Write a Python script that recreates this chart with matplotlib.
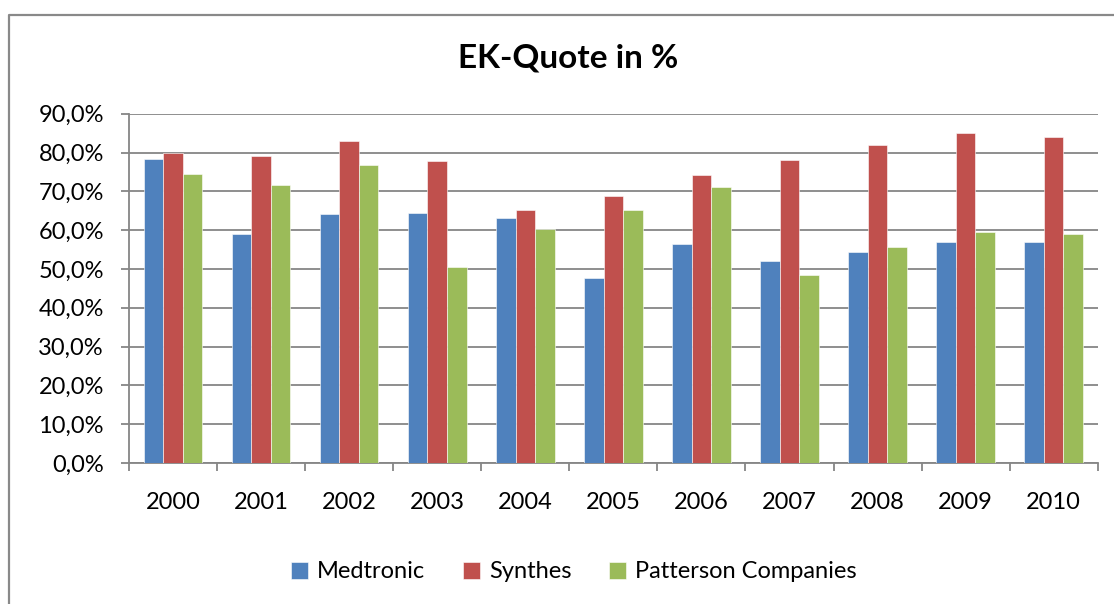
import matplotlib
matplotlib.use('Agg')
import numpy as np
import matplotlib.pyplot as plt
from matplotlib.lines import Line2D
from matplotlib.ticker import FuncFormatter

years = ['2000', '2001', '2002', '2003', '2004', '2005', '2006', '2007', '2008', '2009', '2010']
medtronic = [78.3, 59.1, 64.2, 64.4, 63.0, 47.6, 56.3, 52.0, 54.3, 57.0, 57.0]
synthes = [80.0, 79.0, 82.9, 77.9, 65.1, 68.9, 74.1, 78.0, 81.9, 85.1, 84.0]
patterson = [74.4, 71.6, 76.8, 50.5, 60.2, 65.1, 71.1, 48.5, 55.7, 59.4, 59.0]

series = [('Medtronic', medtronic, '#4F81BD'),
          ('Synthes', synthes, '#C0504D'),
          ('Patterson Companies', patterson, '#9BBB59')]

plt.rcParams['font.family'] = ['Lato', 'DejaVu Sans']
W, H = 1114, 604
fig = plt.figure(figsize=(W / 100, H / 100), dpi=100)
ax = fig.add_axes([129 / W, 1 - 463 / H, (1097.7 - 129) / W, (463 - 113.7) / H])

x = np.arange(len(years))
bw = 0.222
for i, (name, vals, col) in enumerate(series):
    ax.bar(x + (i - 1) * bw, vals, bw, color=col, edgecolor='#ffffff', linewidth=0.4,
           label=name, zorder=3)

grid_col = '#868686'
ax.set_ylim(0, 90)
ax.set_xlim(-0.5, len(years) - 0.5)
ax.set_yticks(np.arange(0, 91, 10))
ax.yaxis.set_major_formatter(FuncFormatter(lambda v, p: f'{v:.1f}%'.replace('.', ',')))
ax.grid(axis='y', color=grid_col, linewidth=1.3, zorder=0)
ax.set_axisbelow(True)

ax.set_xticks(x)
ax.set_xticklabels(years)
ax.set_xticks(np.arange(-0.5, len(years), 1), minor=True)
ax.tick_params(axis='x', which='major', length=0, pad=21, labelsize=17)
ax.tick_params(axis='x', which='minor', length=6, width=1.3, color=grid_col)
ax.tick_params(axis='y', length=6, width=1.3, color=grid_col, pad=12, labelsize=17)

for s in ['top', 'right']:
    ax.spines[s].set_visible(False)
for s in ['left', 'bottom']:
    ax.spines[s].set_color(grid_col)
    ax.spines[s].set_linewidth(1.3)

fig.text(568 / W, 1 - 58 / H, 'EK-Quote in %', ha='center', va='center',
         fontsize=24, fontweight='bold')

fig.legend(loc='center', bbox_to_anchor=(574 / W, 1 - 572 / H), ncol=3, frameon=False,
           fontsize=17, handlelength=0.7, handleheight=0.7, handletextpad=0.4,
           columnspacing=1.6)

# outer chart border
fig.add_artist(Line2D([9 / W, 9 / W, 1.0], [0.0, 1 - 15 / H, 1 - 15 / H],
                      transform=fig.transFigure, color='#898989', linewidth=1.6))

fig.savefig('out.png', dpi=100)
